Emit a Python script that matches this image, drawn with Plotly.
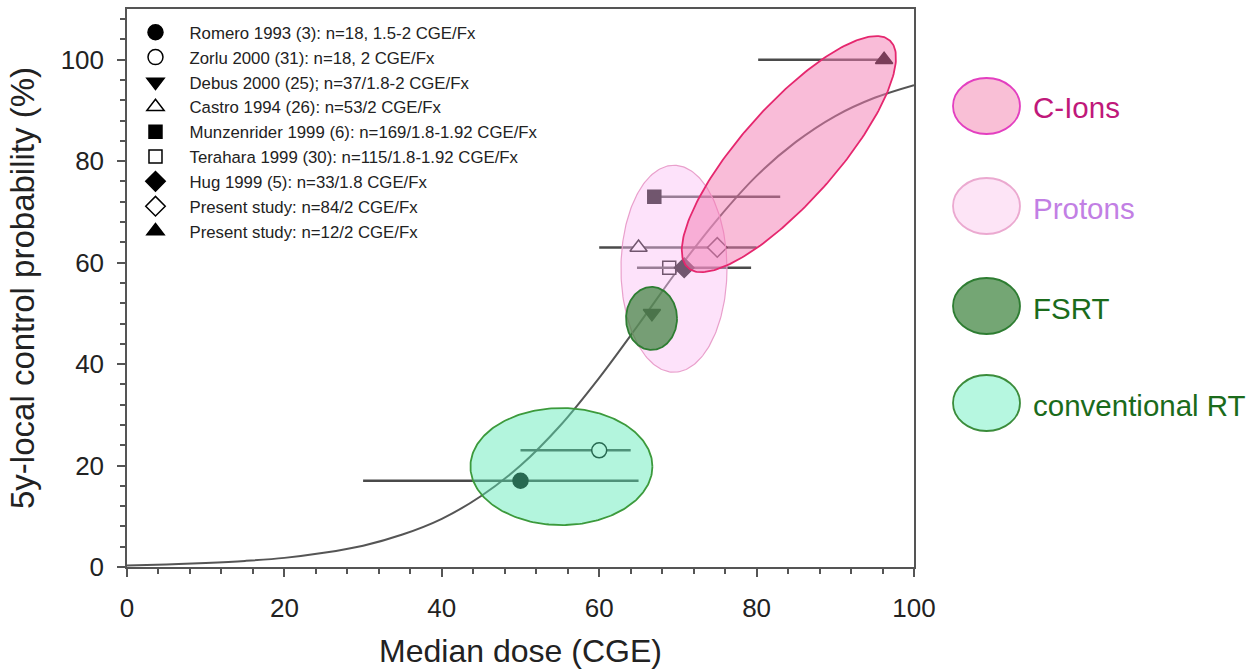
import numpy as np
import plotly.graph_objects as go

# ---------------- data ----------------
study_names = [
    "Romero 1993 (3): n=18, 1.5-2 CGE/Fx",
    "Zorlu 2000 (31): n=18, 2 CGE/Fx",
    "Debus 2000 (25); n=37/1.8-2 CGE/Fx",
    "Castro 1994 (26): n=53/2 CGE/Fx",
    "Munzenrider 1999 (6): n=169/1.8-1.92 CGE/Fx",
    "Terahara 1999 (30): n=115/1.8-1.92 CGE/Fx",
    "Hug 1999 (5): n=33/1.8 CGE/Fx",
    "Present study: n=84/2 CGE/Fx",
    "Present study: n=12/2 CGE/Fx",
]
median_dose = [50, 60, 66.7, 65, 67, 68.9, 70.8, 75, 96.2]
local_control = [17, 23, 50, 63, 73, 59, 59, 63, 100]
dose_err_minus = [20, 10, 0, 5, 0, 0, 6, 0, 16]
dose_err_plus = [15, 4, 0, 15, 16, 0, 8.5, 0, 0]
symbols = ["circle", "circle", "triangle-down", "triangle-up", "square",
           "square", "diamond", "diamond", "triangle-up"]
filled = [True, False, True, False, True, False, True, False, True]

curve_dose = [0, 5, 10, 15, 20, 25, 30, 35, 40, 45, 50, 55, 60, 65, 70, 75, 80, 85, 90, 95, 100]
curve_lc = [0.3, 0.5, 0.8, 1.2, 1.8, 2.8, 4.2, 6.4, 9.5, 14.0, 20.0, 27.8, 37.3, 47.8,
            58.6, 68.5, 77.1, 83.8, 88.9, 92.5, 95.0]

# treatment-group regions: centre (dose, LC), semi-axes (px), rotation (deg)
group_names = ["Protons", "C-Ions", "FSRT", "conventional RT"]
group_cx = [69.5, 84.1, 66.65, 55.2]
group_cy = [58.8, 81.4, 49.0, 19.8]
group_a = [53, 152, 25.5, 91]
group_b = [103.5, 48, 31.5, 58.5]
group_rot = [0, 48.4, 0, 0]
group_fill = ["rgba(251,191,244,0.45)", "rgba(243,121,177,0.5)",
              "rgba(60,130,60,0.7)", "rgba(87,233,180,0.45)"]
group_edge = ["#E9A0CC", "#E5276E", "#2E7D32", "#3C9A3C"]

# ---------------- layout geometry ----------------
W, H = 1249, 671
ML, MR, MT, MB = 127, 335, 9, 104
PW, PH = W - ML - MR, H - MT - MB
XR = [0, 100]
YR = [0, 110]
px_x = PW / (XR[1] - XR[0])
px_y = PH / (YR[1] - YR[0])

fig = go.Figure()

# fitted curve
fig.add_trace(go.Scatter(x=curve_dose, y=curve_lc, mode="lines",
                         line=dict(color="#555555", width=2, shape="spline"),
                         showlegend=False, hoverinfo="skip"))

# study points
for i, name in enumerate(study_names):
    fig.add_trace(go.Scatter(
        x=[median_dose[i]], y=[local_control[i]], mode="markers", name=name,
        marker=dict(symbol=symbols[i], size=15 if "square" not in symbols[i] else 13,
                    color="black" if filled[i] else "white",
                    line=dict(color="black", width=1.5)),
        error_x=dict(type="data", symmetric=False,
                     array=[dose_err_plus[i]], arrayminus=[dose_err_minus[i]],
                     color="#4a4a4a", thickness=2.5, width=0,
                     visible=(dose_err_plus[i] + dose_err_minus[i]) > 0),
    ))

# group ellipses (drawn above points)
t = np.linspace(0, 2 * np.pi, 240)
for k, g in enumerate(group_names):
    th = np.deg2rad(group_rot[k])
    dxp = group_a[k] * np.cos(t) * np.cos(th) - group_b[k] * np.sin(t) * np.sin(th)
    dyp = group_a[k] * np.cos(t) * np.sin(th) + group_b[k] * np.sin(t) * np.cos(th)
    fig.add_trace(go.Scatter(
        x=group_cx[k] + dxp / px_x, y=group_cy[k] + dyp / px_y,
        mode="lines", fill="toself", fillcolor=group_fill[k],
        line=dict(color=group_edge[k], width=1.8 if k != 0 else 1.2),
        showlegend=False, hoverinfo="skip"))

# right-hand legend of groups
legend_groups = ["C-Ions", "Protons", "FSRT", "conventional RT"]
legend_fill = ["#F9BFD6", "#FDE4F6", "#74A674", "#B6F7E0"]
legend_edge = ["#E33FC0", "#EBA9D0", "#2E7D32", "#3B8C3B"]
legend_text_col = ["#C0187A", "#C27FE4", "#1B6B1B", "#1B6B1B"]
legend_py = [106, 206, 306, 403]


def xp(px):
    return (px - ML) / PW


def yp(py):
    return (MT + PH - py) / PH


for k, g in enumerate(legend_groups):
    fig.add_shape(type="circle", xref="paper", yref="paper",
                  x0=xp(953), x1=xp(1020), y0=yp(legend_py[k] + 28), y1=yp(legend_py[k] - 28),
                  fillcolor=legend_fill[k], line=dict(color=legend_edge[k], width=1.8))
    fig.add_annotation(text=g, xref="paper", yref="paper", x=xp(1031), y=yp(legend_py[k] + 2),
                       xanchor="left", yanchor="middle", showarrow=False,
                       font=dict(family="Liberation Sans, Arial", size=29.5, color=legend_text_col[k]))

axis_common = dict(showline=True, linecolor="#555555", linewidth=1.5, mirror=True,
                   ticks="outside", ticklen=8, tickwidth=1.5, tickcolor="#555555",
                   showgrid=False, zeroline=False,
                   tickfont=dict(family="Liberation Sans, Arial", size=26, color="#222222"),
                   minor=dict(dtick=4, ticks="outside", ticklen=5, tickwidth=1.5,
                              tickcolor="#555555", showgrid=False))

fig.update_layout(
    width=W, height=H,
    margin=dict(l=ML, r=MR, t=MT, b=MB, autoexpand=False),
    plot_bgcolor="white", paper_bgcolor="white",
    font=dict(family="Liberation Sans, Arial", color="#222222"),
    xaxis=dict(range=XR, dtick=20, tick0=0, ticklabelstandoff=9,
               title=dict(text="Median dose (CGE)", standoff=18,
                          font=dict(size=32, color="#222222")),
               **axis_common),
    yaxis=dict(range=YR, dtick=20, tick0=0, tickvals=[0, 20, 40, 60, 80, 100],
               ticklabelstandoff=8,
               title=dict(text="5y-local control probability (%)", standoff=16,
                          font=dict(size=33, color="#222222")),
               **axis_common),
    legend=dict(x=-0.007, y=0.9895, xanchor="left", yanchor="top",
                bgcolor="rgba(0,0,0,0)", borderwidth=0, itemwidth=58,
                traceorder="normal",
                font=dict(family="Liberation Sans, Arial", size=16.8, color="#222222")),
    showlegend=True,
)

fig.write_html("out.html", config={"displayModeBar": False},
               post_script="document.body.style.margin='0';document.body.style.overflow='hidden';")
